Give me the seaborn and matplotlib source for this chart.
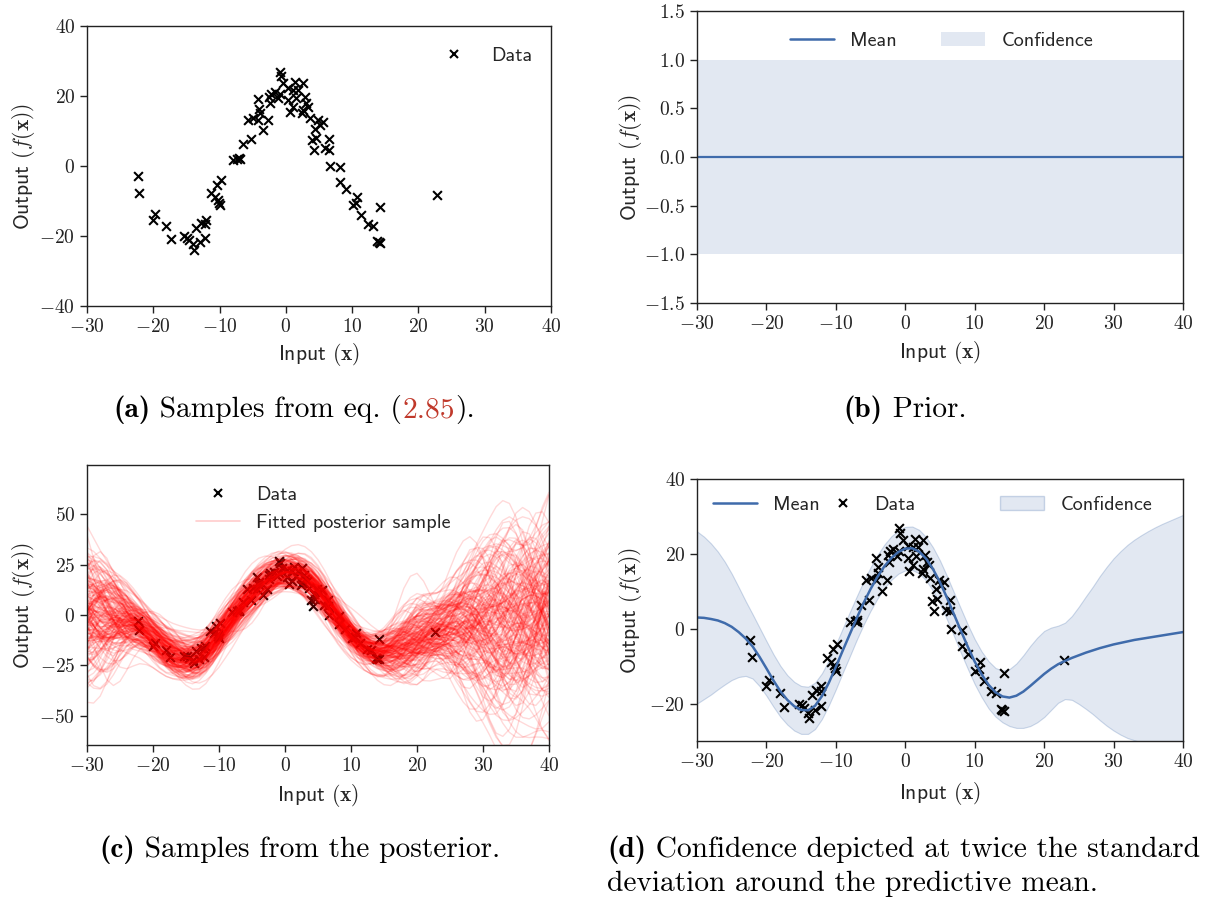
import numpy as np
import pandas as pd
import matplotlib
matplotlib.use("Agg")
import matplotlib.pyplot as plt
import seaborn as sns
from matplotlib.ticker import FuncFormatter, MultipleLocator
from matplotlib.lines import Line2D
from matplotlib.patches import Patch
from matplotlib.legend import Legend

# ---------------- data ----------------
data_x = [-22.3, -22.1, -20.0, -19.7, -18.1, -17.4, -15.3, -14.9, -14.6, -14.0, -13.8, -13.0,
          -12.2, -13.5, -12.8, -12.1, -12.2, -11.3, -10.7, -10.4, -9.8, -10.0, -10.2, -10.1,
          -8.0, -7.3, -7.0, -6.9, -6.4, -5.2, -3.4, -5.7, -4.9, -4.2, -3.9, -2.7, -4.0, -4.2,
          -2.4, -2.2, -1.7, -0.9, -0.9, -0.8, -0.4, 0.35, 0.35, 0.6, 1.4, 1.9, 2.6, 3.1, 2.6,
          -2.5, -1.2, 1.1, 1.6, 2.9, 3.4, 1.1, 2.4, 3.6, 4.9, 5.6, 4.4, 5.1, 3.9, 4.6, 6.5,
          4.2, 5.9, 6.5, 6.6, 8.2, 8.2, 9.1, 10.7, 10.6, 10.1, 14.2, 11.4, 12.4, 13.1, 13.8,
          14.2, 14.0, 22.8]
data_y = [-2.9, -7.6, -15.4, -13.8, -17.2, -21.0, -20.1, -20.5, -21.2, -22.4, -23.9, -21.7,
          -20.6, -17.6, -16.4, -15.3, -16.7, -7.7, -8.8, -5.5, -4.1, -11.2, -9.6, -10.5,
          1.7, 2.0, 2.3, 1.9, 6.4, 7.7, 10.2, 13.1, 13.6, 13.1, 15.0, 13.1, 16.4, 19.0,
          17.9, 20.7, 21.2, 20.7, 26.9, 25.7, 23.6, 22.2, 18.8, 15.5, 24.1, 21.7, 23.6, 17.9, 16.0,
          19.8, 19.5, 21.7, 19.3, 19.8, 16.9, 16.9, 15.0, 13.6, 13.1, 12.6, 10.7, 11.7, 7.4, 7.9, 7.6,
          4.7, 5.0, 4.7, -0.1, -0.3, -4.5, -6.7, -9.0, -10.7, -11.2, -11.7, -14.1, -16.6, -17.2, -21.4,
          -22.0, -21.8, -8.4]

# predictive mean and confidence band (panel d), read at every unit from -30 to 40
grid_x = list(range(-30, 41))
mean_y = [3.0, 2.9, 2.6, 2.2, 1.5, 0.5, -0.9, -2.6, -4.7, -7.5,
          -10.6, -13.8, -16.7, -19.0, -20.7, -21.7, -21.8, -20.6, -18.0, -14.4,
          -10.2, -5.8, -1.5, 2.8, 6.9, 10.6, 13.9, 16.7, 18.9, 20.5,
          21.4, 21.5, 20.6, 18.7, 15.9, 12.4, 8.3, 3.9, -0.5, -4.8,
          -8.8, -12.2, -15.0, -17.0, -18.1, -18.4, -17.9, -16.8, -15.3, -13.7,
          -12.1, -10.7, -9.5, -8.6, -7.8, -7.1, -6.4, -5.8, -5.2, -4.7,
          -4.2, -3.8, -3.4, -3.0, -2.7, -2.4, -2.1, -1.8, -1.5, -1.2,
          -0.9]
upper_y = [26.0, 24.6, 22.8, 20.6, 17.9, 14.7, 11.1, 7.4, 3.9, 0.3,
           -3.3, -6.8, -9.9, -12.4, -14.2, -15.3, -15.5, -14.4, -11.9, -8.4,
           -4.2, 0.1, 4.4, 8.6, 12.7, 16.4, 19.7, 22.5, 24.7, 26.3,
           27.2, 27.3, 26.4, 24.5, 21.7, 18.2, 14.1, 9.7, 5.4, 1.1,
           -2.8, -6.1, -8.7, -10.5, -11.2, -10.8, -9.3, -7.1, -4.6, -2.4,
           -0.6, 0.3, 0.8, 1.6, 3.4, 5.9, 8.6, 11.2, 14.0, 16.5,
           18.8, 20.7, 22.4, 23.8, 25.0, 26.1, 27.1, 28.0, 28.8, 29.6,
           30.4]
lower_y = [-20.0, -18.8, -17.6, -16.2, -14.9, -13.7, -12.9, -12.6, -13.3, -15.3,
           -17.9, -20.8, -23.5, -25.6, -27.2, -28.1, -28.1, -26.8, -24.1, -20.4,
           -16.2, -11.7, -7.4, -3.0, 1.1, 4.8, 8.1, 10.9, 13.1, 14.7,
           15.6, 15.7, 14.8, 12.9, 10.1, 6.6, 2.5, -1.9, -6.4, -10.7,
           -14.8, -18.3, -21.3, -23.5, -25.0, -26.0, -26.5, -26.5, -26.0, -25.0,
           -23.6, -21.7, -19.8, -18.8, -19.0, -20.1, -21.4, -22.8, -24.4, -25.9,
           -27.2, -28.3, -29.2, -29.8, -30.4, -30.9, -31.3, -31.6, -31.8, -32.0,
           -32.2]

# prior (panel b)
prior_x = [-30, 40]
prior_mean = [0.0, 0.0]
prior_upper = [1.0, 1.0]
prior_lower = [-1.0, -1.0]

n_samples = 200

# ---------------- style ----------------
sns.set_theme(style="ticks")
plt.rcParams.update({
    "font.family": ["cmss10", "DejaVu Sans"],
    "mathtext.fontset": "cm",
    "axes.unicode_minus": True,
    "axes.edgecolor": "#222222",
    "axes.linewidth": 1.0,
    "xtick.color": "#222222",
    "ytick.color": "#222222",
})

W, H = 1205, 897
fig = plt.figure(figsize=(W / 100, H / 100), dpi=100)


def rect(l, t, r, b):
    return [l / W, 1 - b / H, (r - l) / W, (b - t) / H]


BLUE = "#3f6bab"
BAND_FACE = (0.25, 0.42, 0.67, 0.15)
BAND_EDGE = (0.25, 0.42, 0.67, 0.25)
TICK_FS = 14
LAB_FS = 15.5
LEG_FS = 14.5
CAP_FS = 21.2


def fmt_int(v, p):
    return f"${v:.0f}$"


def fmt_1(v, p):
    return f"${v:.1f}$"


def style(ax, xlab_y, ylab_x, fmt=fmt_int):
    ax.set_xlabel(r"Input $(\mathbf{x})$", fontsize=LAB_FS)
    ax.set_ylabel(r"Output $(f(\mathbf{x}))$", fontsize=LAB_FS)
    ax.xaxis.set_label_coords(0.5, xlab_y)
    ax.yaxis.set_label_coords(ylab_x, 0.5)
    ax.tick_params(direction="out", length=5, width=1, labelsize=TICK_FS)
    ax.xaxis.set_major_formatter(FuncFormatter(fmt_int))
    ax.yaxis.set_major_formatter(FuncFormatter(fmt))
    ax.set_xlim(-30, 40)
    ax.xaxis.set_major_locator(MultipleLocator(10))


def data_handle():
    return Line2D([], [], marker="x", color="black", lw=0, markersize=6, markeredgewidth=1.5)


# ---------------- (a) ----------------
axA = fig.add_axes(rect(87, 26, 551, 306))
sns.scatterplot(x=data_x, y=data_y, marker="x", color="black", s=40, linewidth=1.5, ax=axA)
axA.set_ylim(-40, 40)
axA.yaxis.set_major_locator(MultipleLocator(20))
style(axA, -0.125, -0.108)
axA.legend([data_handle()], ["Data"], loc="upper right", frameon=False, fontsize=LEG_FS,
           handletextpad=0.8, borderaxespad=0.3,
           bbox_to_anchor=(1 - 5 / 464, 1 - 7 / 280))

# ---------------- (b) ----------------
axB = fig.add_axes(rect(697, 11, 1183, 303))
axB.fill_between(prior_x, prior_lower, prior_upper, color=BLUE, alpha=0.15, lw=0)
sns.lineplot(x=prior_x, y=prior_mean, color=BLUE, lw=1.6, ax=axB)
axB.set_ylim(-1.5, 1.5)
axB.yaxis.set_major_locator(MultipleLocator(0.5))
style(axB, -0.125, -0.11, fmt=fmt_1)
axB.legend([Line2D([], [], color=BLUE, lw=1.8), Patch(facecolor=BLUE, alpha=0.15, lw=0)],
           ["Mean", "Confidence"], loc="upper center", ncol=2, frameon=False,
           fontsize=LEG_FS, columnspacing=2.2, handlelength=2.2, handletextpad=0.8,
           bbox_to_anchor=(0.503, 1.0 - 3 / 292))

# ---------------- (c) ----------------
axC = fig.add_axes(rect(87, 465, 549, 745))
gx = np.array(grid_x, dtype=float)
m = np.array(mean_y)
sd = (np.array(upper_y) - np.array(lower_y)) / 4.0
ell = 4.0
K = np.exp(-0.5 * (gx[:, None] - gx[None, :]) ** 2 / ell ** 2) + 1e-6 * np.eye(len(gx))
Lc = np.linalg.cholesky(K)
rng = np.random.default_rng(7)
Z = Lc @ rng.standard_normal((len(gx), n_samples))
samples = m[:, None] + 1.6 * sd[:, None] * Z
df = pd.DataFrame({
    "x": np.tile(gx, n_samples),
    "y": samples.T.ravel(),
    "s": np.repeat(np.arange(n_samples), len(gx)),
})
sns.lineplot(data=df, x="x", y="y", units="s", estimator=None, color="red", alpha=0.15,
             lw=1.0, ax=axC)
sns.scatterplot(x=data_x, y=data_y, marker="x", color="black", s=40, linewidth=1.5, ax=axC)
axC.set_ylim(-64.5, 74.5)
axC.yaxis.set_major_locator(MultipleLocator(25))
style(axC, -0.132, -0.108)
axC.legend([data_handle(), Line2D([], [], color="red", alpha=0.2, lw=1.2)],
           ["Data", "Fitted posterior sample"], loc="upper center", frameon=False,
           fontsize=LEG_FS, handlelength=2.2, handletextpad=0.8,
           bbox_to_anchor=(0.511, 1.0 - 3 / 280))

# ---------------- (d) ----------------
axD = fig.add_axes(rect(697, 479, 1183, 741))
axD.fill_between(grid_x, lower_y, upper_y, facecolor=BAND_FACE, edgecolor=BAND_EDGE, lw=0.8)
sns.lineplot(x=grid_x, y=mean_y, color=BLUE, lw=1.8, ax=axD)
sns.scatterplot(x=data_x, y=data_y, marker="x", color="black", s=40, linewidth=1.5, ax=axD)
axD.set_ylim(-30, 40)
axD.yaxis.set_major_locator(MultipleLocator(20))
style(axD, -0.149, -0.11)
if axD.get_legend() is not None:
    axD.get_legend().remove()

leg_y = 1 - 17 / 262
for handle, label, x0, pad in [
    (Line2D([], [], color=BLUE, lw=1.8), "Mean", (713 - 697) / 486, 0.8),
    (data_handle(), "Data", (821 - 697) / 486, 0.45),
    (Patch(facecolor=BAND_FACE, edgecolor=BAND_EDGE), "Confidence", (1000 - 697) / 486, 0.8),
]:
    lg = Legend(axD, [handle], [label], loc="upper left", frameon=False, fontsize=LEG_FS,
                handlelength=2.2, handletextpad=pad, borderpad=0, borderaxespad=0,
                bbox_to_anchor=(x0, leg_y))
    axD.add_artist(lg)

# ---------------- captions ----------------
renderer = fig.canvas.get_renderer()


def rich(parts, x_px, y_px, center=False):
    texts = []
    widths = []
    for s, fam, col in parts:
        t = fig.text(0, 0, s, family=fam, color=col, fontsize=CAP_FS, va="baseline", ha="left")
        widths.append(t.get_window_extent(renderer).width)
        texts.append(t)
    total = sum(widths)
    x = x_px - total / 2 if center else x_px
    for t, w in zip(texts, widths):
        t.set_position((x / W, 1 - y_px / H))
        x += w


rich([("(a)", "cmb10", "black"), (" Samples from eq. (", "cmr10", "black"),
      ("2.85", "cmr10", "#c0392b"), (").", "cmr10", "black")], 294, 417, center=True)
rich([("(b)", "cmb10", "black"), (" Prior.", "cmr10", "black")], 905, 417, center=True)
rich([("(c)", "cmb10", "black"), (" Samples from the posterior.", "cmr10", "black")],
     300, 857, center=True)
rich([("(d)", "cmb10", "black"), (" Confidence depicted at twice the standard", "cmr10", "black")],
     607, 857)
rich([("deviation around the predictive mean.", "cmr10", "black")], 607, 891)

fig.savefig("out.png", dpi=100)
